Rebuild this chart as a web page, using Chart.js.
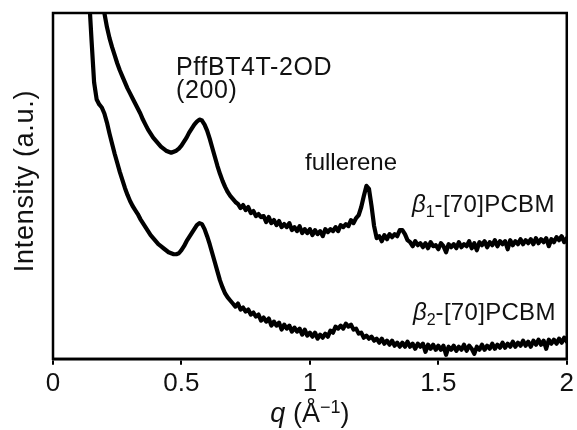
<!DOCTYPE html>
<html>
<head>
<meta charset="utf-8">
<script src="https://cdn.jsdelivr.net/npm/chart.js@4"></script>
<style>
    html, body { margin: 0; padding: 0; background: #fff; }
    #wrap { width: 577px; height: 430px; }
</style>
</head>
<body>
<div id="wrap"><canvas id="chart" width="577" height="430"></canvas></div>
<script>
// q grid: 0.14 .. 2.00 in steps of 0.01
const Q_START = 0.14;
const Q_STEP = 0.01;

// intensity (a.u.), one value per q step
const beta1Intensity = [
    507, 472, 437, 407, 382, 362,
    344, 330, 319, 310, 302, 294, 287, 281, 275, 269,
    264, 259, 254, 249, 244, 238, 233, 228, 224, 220,
    217, 214, 211, 209, 207, 206, 205, 206, 207, 209,
    212, 216, 220, 225, 229, 233, 236, 238, 237, 233,
    227, 219, 210, 201, 192, 184, 177, 171, 166, 162,
    159, 156, 154, 150, 153, 148, 151, 145, 147, 142,
    144, 141, 142, 136, 141, 135, 138, 133, 137, 131,
    134, 131, 135, 128, 131, 127, 132, 125, 129, 125,
    129, 123, 128, 124, 127, 122, 129, 126, 129, 127,
    131, 127, 133, 131, 134, 132, 138, 135, 140, 143,
    151, 162, 172, 169, 152, 132, 120, 122, 117, 123,
    119, 124, 121, 124, 122, 128, 128, 124, 118, 116,
    112, 117, 113, 115, 111, 115, 110, 116, 112, 113,
    109, 115, 112, 106, 114, 111, 114, 110, 116, 111,
    114, 112, 117, 110, 115, 108, 116, 113, 117, 111,
    116, 113, 118, 112, 117, 114, 117, 109, 118, 113,
    117, 114, 119, 114, 118, 115, 119, 114, 120, 115,
    119, 116, 120, 112, 119, 116, 121, 118, 122, 116,
    120
];

const beta2Intensity = [
    362, 317, 275, 258, 253, 250,
    244, 235, 224, 214, 204, 195, 186, 178, 170, 163,
    157, 152, 148, 144, 139, 135, 131, 127, 123, 120,
    117, 114, 112, 110, 108, 106, 105, 104, 104, 105,
    108, 112, 117, 121, 125, 129, 133, 135, 134, 129,
    122, 114, 105, 96, 87, 78, 71, 65, 61, 58,
    55, 52, 55, 49, 51, 47, 49, 44, 46, 42,
    44, 38, 41, 37, 40, 33, 37, 33, 36, 29,
    34, 30, 33, 27, 31, 27, 30, 24, 29, 23,
    26, 22, 26, 20, 24, 21, 25, 22, 28, 26,
    32, 30, 33, 30, 35, 32, 34, 29, 30, 25,
    26, 21, 23, 20, 22, 18, 20, 16, 20, 15,
    18, 14, 18, 13, 16, 12, 16, 12, 17, 12,
    15, 10, 15, 12, 15, 7, 14, 10, 14, 9,
    13, 9, 13, 4, 12, 9, 13, 8, 12, 9,
    14, 8, 13, 10, 5, 12, 9, 14, 9, 13,
    10, 15, 10, 14, 11, 16, 11, 15, 12, 17,
    12, 16, 13, 18, 13, 17, 12, 18, 14, 19,
    14, 18, 10, 19, 15, 19, 15, 20, 16, 21,
    17
];

const xTicks = [0, 0.5, 1, 1.5, 2];

const FONT = '"Liberation Sans", Arial, Helvetica, sans-serif';
const INK = '#111';

function toPoints(values) {
    return values.map((v, i) => ({ x: +(Q_START + i * Q_STEP).toFixed(2), y: v }));
}

// frame, axis title and the text labels inside the plot
const annotations = {
    id: 'annotations',
    afterDraw(chart) {
        const ctx = chart.ctx;
        const area = chart.chartArea;
        ctx.save();

        ctx.strokeStyle = '#000';
        ctx.lineWidth = 2.5;
        ctx.strokeRect(area.left, area.top, area.right - area.left, area.bottom - area.top);

        ctx.fillStyle = INK;
        ctx.textBaseline = 'alphabetic';

        // y title
        ctx.save();
        ctx.translate(33, 181);
        ctx.rotate(-Math.PI / 2);
        ctx.textAlign = 'center';
        ctx.font = '27px ' + FONT;
        ctx.letterSpacing = '0.7px';
        ctx.fillText('Intensity (a.u.)', 0, 0);
        ctx.restore();

        // x title: q (Å^-1)
        ctx.textAlign = 'left';
        const parts = [
            { t: 'q', f: 'italic 27px ' + FONT, dy: 0 },
            { t: ' (Å', f: '27px ' + FONT, dy: 0 },
            { t: '\u22121', f: '18px ' + FONT, dy: -9 },
            { t: ')', f: '27px ' + FONT, dy: 0 }
        ];
        let total = 0;
        parts.forEach(p => { ctx.font = p.f; total += ctx.measureText(p.t).width; });
        let cx = (area.left + area.right) / 2 - total / 2;
        parts.forEach(p => {
            ctx.font = p.f;
            ctx.fillText(p.t, cx, 422 + p.dy);
            cx += ctx.measureText(p.t).width;
        });

        // peak labels
        ctx.save();
        ctx.font = '25px ' + FONT;
        ctx.letterSpacing = '0.6px';
        ctx.fillText('PffBT4T-2OD', 176, 75);
        ctx.fillText('(200)', 176, 98);
        ctx.restore();
        ctx.font = '24px ' + FONT;
        ctx.fillText('fullerene', 305, 170);

        const sample = (x, y, n) => {
            let px = x;
            ctx.font = 'italic 24px ' + FONT;
            ctx.fillText('\u03b2', px, y);
            px += ctx.measureText('\u03b2').width;
            ctx.font = '16px ' + FONT;
            ctx.fillText(n, px, y + 5);
            px += ctx.measureText(n).width;
            ctx.font = '24px ' + FONT;
            ctx.letterSpacing = '0.3px';
            ctx.fillText('-[70]PCBM', px, y);
            ctx.letterSpacing = '0px';
        };
        sample(412, 212, '1');
        sample(413, 320, '2');

        ctx.restore();
    }
};

const ctx = document.getElementById('chart').getContext('2d');
const chart = new Chart(ctx, {
    type: 'line',
    data: {
        datasets: [
            {
                label: 'beta1-[70]PCBM',
                data: toPoints(beta1Intensity),
                borderColor: '#000',
                borderWidth: 4.2,
                pointRadius: 0,
                tension: 0,
                borderJoinStyle: 'round',
                borderCapStyle: 'round',
                fill: false,
                clip: 0,
            },
            {
                label: 'beta2-[70]PCBM',
                data: toPoints(beta2Intensity),
                borderColor: '#000',
                borderWidth: 4.2,
                pointRadius: 0,
                tension: 0,
                borderJoinStyle: 'round',
                borderCapStyle: 'round',
                fill: false,
                clip: 0,
            }
        ]
    },
    options: {
        responsive: false,
        animation: false,
        layout: {
            padding: { left: 53, right: 10, top: 13, bottom: 28 }
        },
        scales: {
            x: {
                type: 'linear',
                min: 0,
                max: 2,
                afterBuildTicks: (axis) => {
                    axis.ticks = xTicks.map(v => ({ value: v }));
                },
                grid: {
                    display: true,
                    drawOnChartArea: false,
                    drawTicks: true,
                    tickLength: 6,
                    color: '#000',
                    lineWidth: 2,
                },
                border: { display: true, color: '#000', width: 2.5 },
                ticks: {
                    color: INK,
                    padding: 3,
                    font: { family: FONT, size: 26 },
                    maxRotation: 0,
                    callback: (v) => String(v),
                },
            },
            y: {
                display: false,
                min: 0,
                max: 344,
            }
        },
        plugins: {
            legend: { display: false },
            tooltip: { enabled: false },
        }
    },
    plugins: [annotations]
});
</script>
</body>
</html>
